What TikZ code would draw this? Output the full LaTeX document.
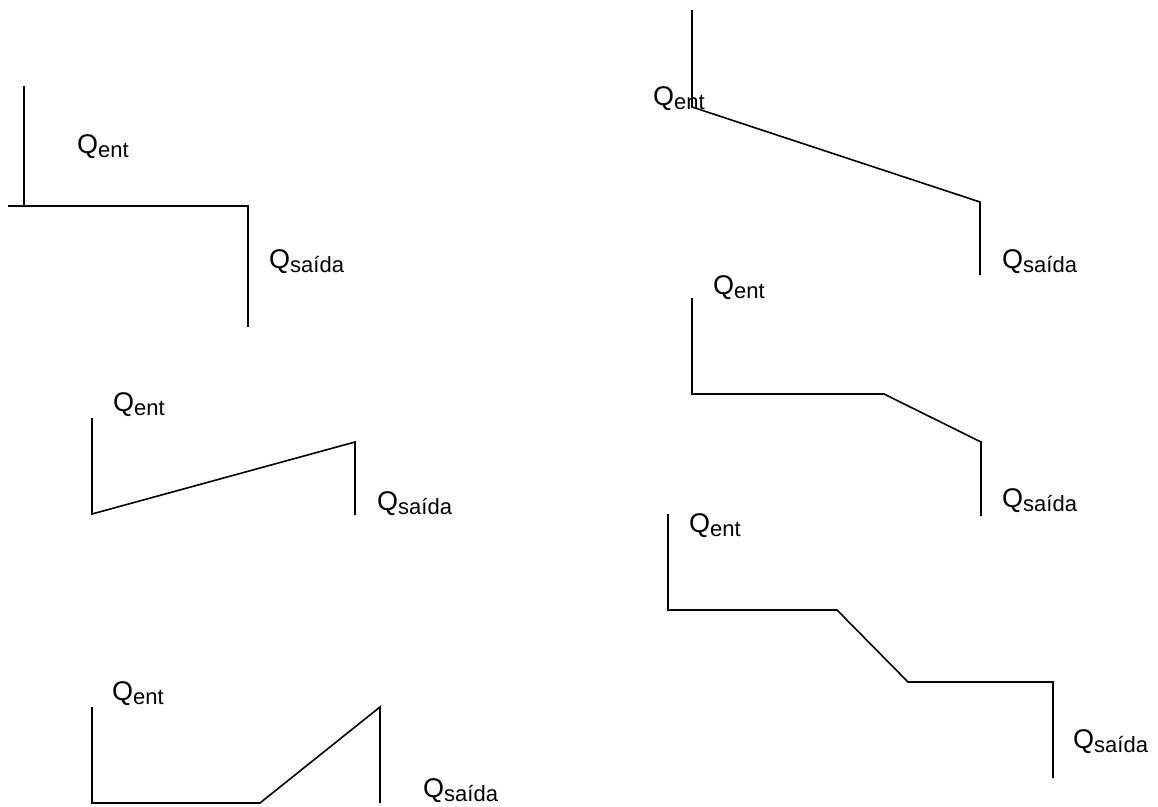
\documentclass[tikz,border=0pt]{standalone}
\usepackage{fontspec}
\setmainfont{Liberation Sans}
\usepackage{tikz}
\usetikzlibrary{positioning}

% Q with a lowered subscript, as in the flow profiles
\newcommand{\qlab}[1]{Q{\fontsize{22}{22}\selectfont\raisebox{-4pt}{#1}}}

\begin{document}
\begin{tikzpicture}[x=1pt, y=-1pt,
      prof/.style={line width=1.6pt, line join=miter},
      lbl/.style={anchor=base west, inner sep=0pt, font=\fontsize{27}{27}\selectfont}]

    \useasboundingbox (0,0) rectangle (1158,806);

    % Profile A: step at the outlet
    \draw[prof] (24,86) -- (24,206);
    \draw[prof] (8,206) -- (248,206) -- (248,327);
    \node[lbl] (entA) at (77,153)  {\qlab{ent}};
    \node[lbl] (saiA) at (269,268) {\qlab{saída}};

    % Profile B: rising ramp
    \draw[prof] (92,418) -- (92,514) -- (355,442) -- (355,515);
    \node[lbl] (entB) at (113,411) {\qlab{ent}};
    \node[lbl] (saiB) at (377,510) {\qlab{saída}};

    % Profile C: flat then rising
    \draw[prof] (92,707) -- (92,803) -- (260,803) -- (380,707) -- (380,803);
    \node[lbl] (entC) at (112,700) {\qlab{ent}};
    \node[lbl] (saiC) at (423,797) {\qlab{saída}};

    % Profile D: falling ramp
    \draw[prof] (692,10) -- (692,107) -- (980,202) -- (980,275);
    \node[lbl] (entD) at (653,105)  {\qlab{ent}};
    \node[lbl] (saiD) at (1002,268) {\qlab{saída}};

    % Profile E: flat then falling
    \draw[prof] (692,298) -- (692,394) -- (884,394) -- (981,442) -- (981,516);
    \node[lbl] (entE) at (713,294)  {\qlab{ent}};
    \node[lbl] (saiE) at (1002,507) {\qlab{saída}};

    % Profile F: two levels
    \draw[prof] (668,514) -- (668,610) -- (837,610) -- (908,682) -- (1053,682) -- (1053,778);
    \node[lbl] (entF) at (689,532)  {\qlab{ent}};
    \node[lbl] (saiF) at (1073,748) {\qlab{saída}};

\end{tikzpicture}
\end{document}
